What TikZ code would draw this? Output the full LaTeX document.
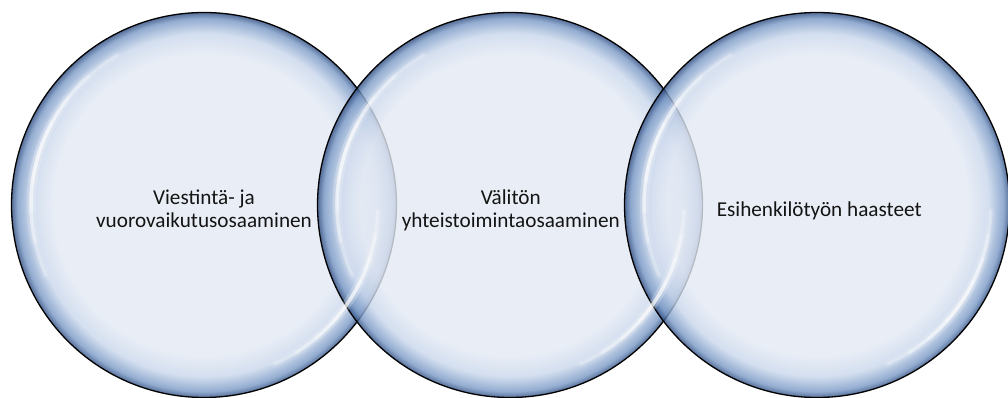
\documentclass[tikz,border=0pt]{standalone}
\usepackage{fontspec}
\setmainfont{Carlito}
\definecolor{bc0}{RGB}{228,234,244}
\definecolor{bc1}{RGB}{200,214,235}
\definecolor{bc2}{RGB}{120,152,197}
\definecolor{bc3}{RGB}{45,75,128}
\definecolor{txt}{RGB}{20,20,20}
\pgfdeclareradialshading{bubble}{\pgfpoint{0bp}{0bp}}{color(0bp)=(bc0); color(19.5bp)=(bc0); color(22.3bp)=(bc1); color(24.2bp)=(bc2); color(25bp)=(bc3); color(50bp)=(bc3)}
\tikzset{
  bubblenode/.style={circle, minimum size=385pt, inner sep=0pt, shading=bubble,
    fill opacity=0.8, draw=black, draw opacity=1, line width=1.3pt},
  hl/.style={white, line width=3.5pt, opacity=0.27, line cap=round},
  hlsoft/.style={white, line width=9pt, opacity=0.07, line cap=round},
  lbl/.style={font=\fontsize{21.2}{23}\selectfont, text=txt, align=center, inner sep=0pt}
}
\begin{document}
\begin{tikzpicture}[x=1pt,y=-1pt]
\useasboundingbox (0,0) rectangle (1008,398);
\node[bubblenode] (c1) at (204,205) {};
\node[bubblenode] (c2) at (510,205) {};
\node[bubblenode] (c3) at (817,205) {};
\foreach \c in {c1,c2,c3}{
  \foreach \k in {10,20,30,42}{
    \draw[hlsoft] ([shift={({-(162-\k)}:173)}]\c.center) arc[start angle={-(162-\k)}, end angle={-(162+\k)}, radius=173];
    \draw[hl] ([shift={({-(162-\k)}:173)}]\c.center) arc[start angle={-(162-\k)}, end angle={-(162+\k)}, radius=173];
  }
  \foreach \k in {8,16,24,32}{
    \draw[hlsoft] ([shift={({34+\k}:174)}]\c.center) arc[start angle={34+\k}, end angle={34-\k}, radius=174];
    \draw[hl] ([shift={({34+\k}:174)}]\c.center) arc[start angle={34+\k}, end angle={34-\k}, radius=174];
  }
}
\node[lbl] (t1) at (204,208.6) {Viestintä- ja\\vuorovaikutusosaaminen};
\node[lbl] (t2) at (510.8,210.3) {Välitön\\yhteistoimintaosaaminen};
\node[lbl] (t3) at (819.2,211) {Esihenkilötyön haasteet};
\end{tikzpicture}
\end{document}
